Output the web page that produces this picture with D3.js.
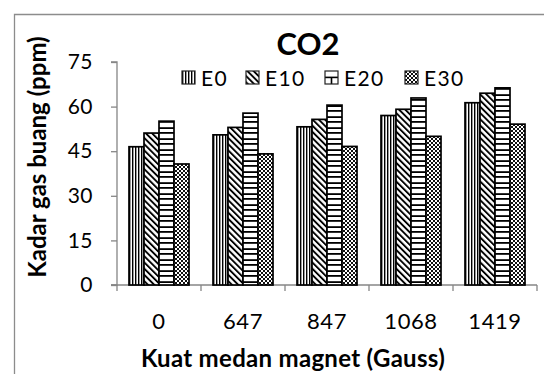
<!DOCTYPE html>
<html>
<head>
<meta charset="utf-8">
<script src="https://cdn.jsdelivr.net/npm/d3@7"></script>
<style>
  body { margin: 0; background: #fff; }
  text { font-family: Lato, "DejaVu Sans", sans-serif; fill: #000; }
</style>
</head>
<body>
<svg width="544" height="374"></svg>
<script>
var categories = ["0", "647", "847", "1068", "1419"];
var series = ["E0", "E10", "E20", "E30"];
var E0 = [46.5, 50.5, 53.2, 57, 61.3];
var E10 = [51.1, 53, 55.7, 59.1, 64.5];
var E20 = [55.1, 57.8, 60.5, 62.9, 66.3];
var E30 = [40.7, 44.1, 46.6, 50, 54.1];
var yTicks = [0, 15, 30, 45, 60, 75];

var values = { E0: E0, E10: E10, E20: E20, E30: E30 };

var svg = d3.select("svg"),
    width = +svg.attr("width"),
    height = +svg.attr("height");

var axisGrey = "#868686";

// FRAME

svg.append("path")
    .attr("d", "M14.5," + height + "V14.5H" + width)
    .attr("fill", "none")
    .attr("stroke", "#8c8c8c")
    .attr("stroke-width", 1.3);

// SCALES

var x0 = d3.scaleBand()
    .domain(categories)
    .range([117, 537]);

var x1 = d3.scaleBand()
    .domain(series)
    .range([12, x0.bandwidth() - 12]);

var y = d3.scaleLinear()
    .domain([0, 75])
    .range([285, 62]);

// PATTERNS

var defs = svg.append("defs");

var pE0 = defs.append("pattern")
    .attr("id", "pE0")
    .attr("patternUnits", "userSpaceOnUse")
    .attr("width", 3).attr("height", 3);
pE0.append("rect").attr("width", 3).attr("height", 3).attr("fill", "#fff");
pE0.append("rect").attr("x", 0).attr("width", 1.3).attr("height", 3).attr("fill", "#000");
pE0.append("rect").attr("x", 1.3).attr("width", 0.6).attr("height", 3).attr("fill", "#888");

var pE10 = defs.append("pattern")
    .attr("id", "pE10")
    .attr("patternUnits", "userSpaceOnUse")
    .attr("width", 4.4).attr("height", 4.4)
    .attr("patternTransform", "rotate(-45)");
pE10.append("rect").attr("width", 4.4).attr("height", 4.4).attr("fill", "#fff");
pE10.append("rect").attr("width", 1.9).attr("height", 4.4).attr("fill", "#000");

// brick pattern lined up on the E20 bars
var pE20 = defs.append("pattern")
    .attr("id", "pE20")
    .attr("patternUnits", "userSpaceOnUse")
    .attr("x", x0.range()[0] + x1("E20"))
    .attr("y", 0)
    .attr("width", x0.step()).attr("height", 11);
pE20.append("rect").attr("width", x0.step()).attr("height", 11).attr("fill", "#fff");
pE20.append("rect").attr("y", 0).attr("width", x0.step()).attr("height", 1.8).attr("fill", "#000");
pE20.append("rect").attr("y", 6.2).attr("width", x0.step()).attr("height", 1.8).attr("fill", "#000");
pE20.append("rect").attr("x", x1.bandwidth() / 2 - 1).attr("y", 0)
    .attr("width", 2).attr("height", 7).attr("fill", "#000");

var pE30 = defs.append("pattern")
    .attr("id", "pE30")
    .attr("patternUnits", "userSpaceOnUse")
    .attr("width", 4).attr("height", 4);
pE30.append("rect").attr("width", 4).attr("height", 4).attr("fill", "#fff");
pE30.append("rect").attr("x", 0).attr("y", 0).attr("width", 2).attr("height", 2).attr("fill", "#111");
pE30.append("rect").attr("x", 2).attr("y", 2).attr("width", 2).attr("height", 2).attr("fill", "#111");

// legend icon for E20: a box split across, with a post in the lower half
var pE20i = defs.append("pattern")
    .attr("id", "pE20i")
    .attr("patternUnits", "objectBoundingBox")
    .attr("width", 1).attr("height", 1);
pE20i.append("rect").attr("width", 13).attr("height", 13).attr("fill", "#fff");
pE20i.append("rect").attr("y", 5.6).attr("width", 13).attr("height", 1.6).attr("fill", "#000");
pE20i.append("rect").attr("x", 5.7).attr("y", 6).attr("width", 1.6).attr("height", 7).attr("fill", "#000");

// AXES

var yAxis = svg.append("g")
    .attr("transform", "translate(" + x0.range()[0] + ",0)")
    .call(d3.axisLeft(y).tickValues(yTicks).tickSize(6).tickPadding(18));

var xAxis = svg.append("g")
    .attr("transform", "translate(0," + y(0) + ")")
    .call(d3.axisBottom(x0).tickSize(0).tickPadding(28));

xAxis.selectAll(".tick line").remove();
xAxis.append("g")
  .selectAll("line")
  .data(categories.concat(["end"]))
  .enter().append("line")
    .attr("x1", function(d, i) { return x0.range()[0] + i * x0.step(); })
    .attr("x2", function(d, i) { return x0.range()[0] + i * x0.step(); })
    .attr("y1", 0).attr("y2", 6)
    .attr("stroke", axisGrey)
    .attr("stroke-width", 1.3);

[yAxis, xAxis].forEach(function(ax) {
  ax.select(".domain").attr("stroke", axisGrey).attr("stroke-width", 1.3);
  ax.selectAll(".tick line").attr("stroke", axisGrey).attr("stroke-width", 1.3);
  ax.selectAll(".tick text")
      .attr("font-family", "Lato, sans-serif")
      .attr("fill", "#000");
});
yAxis.selectAll(".tick text").attr("font-size", 21).attr("letter-spacing", 0.5);
xAxis.selectAll(".tick text").attr("font-size", 22).attr("letter-spacing", 0.6);
yAxis.select(".domain").attr("d", "M-6," + y(75) + "H0V" + y(0) + "H-6");
xAxis.select(".domain").attr("d", "M" + (x0.range()[0] - 6) + ",0H" + x0.range()[1]);

// BARS

var group = svg.append("g")
    .attr("class", "bars")
  .selectAll("g")
  .data(categories)
  .enter().append("g")
    .attr("transform", function(d) { return "translate(" + x0(d) + ",0)"; });

group.selectAll("rect")
  .data(function(d, i) { return series.map(function(s) { return { s: s, v: values[s][i] }; }); })
  .enter().append("rect")
    .attr("x", function(d) { return x1(d.s); })
    .attr("y", function(d) { return y(d.v); })
    .attr("width", x1.bandwidth())
    .attr("height", function(d) { return y(0) - y(d.v); })
    .attr("fill", function(d) { return "url(#p" + d.s + ")"; })
    .attr("stroke", "#000")
    .attr("stroke-width", 1.7);

// TITLES

svg.append("text")
    .attr("x", 308)
    .attr("y", 55)
    .attr("text-anchor", "middle")
    .attr("font-size", 31)
    .attr("font-weight", "bold")
    .text("CO2");

svg.append("text")
    .attr("transform", "translate(46,157) rotate(-90)")
    .attr("text-anchor", "middle")
    .attr("font-size", 24)
    .attr("font-weight", "bold")
    .text("Kadar gas buang (ppm)");

svg.append("text")
    .attr("x", 293)
    .attr("y", 367)
    .attr("text-anchor", "middle")
    .attr("font-size", 24)
    .attr("font-weight", "bold")
    .attr("letter-spacing", 0.3)
    .text("Kuat medan magnet (Gauss)");

// LEGEND

var legendX = [182, 246, 325, 405];

var legend = svg.append("g")
    .attr("class", "legend")
  .selectAll("g")
  .data(series)
  .enter().append("g")
    .attr("transform", function(d, i) { return "translate(" + legendX[i] + ",71)"; });

legend.append("rect")
    .attr("width", 13)
    .attr("height", 13)
    .attr("fill", function(d) { return d == "E20" ? "url(#pE20i)" : "url(#p" + d + ")"; })
    .attr("stroke", "#222")
    .attr("stroke-width", 1.2);

legend.append("text")
    .attr("x", 19)
    .attr("y", 15)
    .attr("font-size", 21)
    .attr("letter-spacing", 1.3)
    .text(function(d) { return d; });
</script>
</body>
</html>
